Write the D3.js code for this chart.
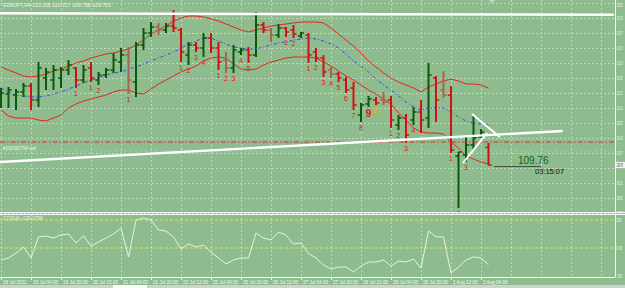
<!DOCTYPE html>
<html><head><meta charset="utf-8">
<script src="https://cdn.jsdelivr.net/npm/d3@7"></script>
<style>html,body{margin:0;padding:0;background:#8fbc8f;overflow:hidden}svg{display:block}</style>
</head><body><svg id="c" width="625" height="288"></svg>
<script>
// ---------- DATA ----------
const barTimes = [
 "18 Jul 12:00","18 Jul 16:00","18 Jul 20:00",
 "19 Jul 00:00","19 Jul 04:00","19 Jul 08:00","19 Jul 12:00","19 Jul 16:00","19 Jul 20:00",
 "20 Jul 00:00","20 Jul 04:00","20 Jul 08:00","20 Jul 12:00","20 Jul 16:00","20 Jul 20:00",
 "21 Jul 00:00","21 Jul 04:00","21 Jul 08:00","21 Jul 12:00","21 Jul 16:00","21 Jul 20:00",
 "22 Jul 00:00","22 Jul 04:00","22 Jul 08:00","22 Jul 12:00","22 Jul 16:00","22 Jul 20:00",
 "25 Jul 00:00","25 Jul 04:00","25 Jul 08:00","25 Jul 12:00","25 Jul 16:00","25 Jul 20:00",
 "26 Jul 00:00","26 Jul 04:00","26 Jul 08:00","26 Jul 12:00","26 Jul 16:00","26 Jul 20:00",
 "27 Jul 00:00","27 Jul 04:00","27 Jul 08:00","27 Jul 12:00","27 Jul 16:00","27 Jul 20:00",
 "28 Jul 00:00","28 Jul 04:00","28 Jul 08:00","28 Jul 12:00","28 Jul 16:00","28 Jul 20:00",
 "29 Jul 00:00","29 Jul 04:00","29 Jul 08:00","29 Jul 12:00","29 Jul 16:00","29 Jul 20:00",
 "1 Aug 00:00","1 Aug 04:00","1 Aug 08:00","1 Aug 12:00","1 Aug 16:00","1 Aug 20:00",
 "2 Aug 00:00","2 Aug 04:00","2 Aug 08:00"];

const open = [111.29,111.54,111.515,111.59,111.74,111.39,111.94,111.89,111.94,112.14,
 112.19,111.89,112.19,111.89,112.015,112.14,112.34,112.515,111.84,112.765,
 113.065,113.215,113.14,113.24,113.14,112.515,112.765,112.69,112.94,112.69,
 112.39,112.19,112.59,112.64,112.515,113.265,113.14,113.015,113.19,113.14,
 112.99,113.015,112.59,112.44,112.14,112.04,111.89,111.69,111.015,111.29,
 111.39,111.39,111.39,110.765,110.94,110.89,111.09,110.94,111.94,111.64,
 111.515,109.99,110.015,110.265,110.465,110.205];
const high = [111.69,111.715,111.665,111.815,111.815,112.34,112.19,112.265,112.215,112.39,
 112.215,112.265,112.34,112.09,112.19,112.565,112.69,112.715,112.84,113.19,
 113.34,113.315,113.315,113.64,113.19,112.84,112.84,113.065,113.065,112.84,
 112.59,112.765,112.69,112.715,113.59,113.34,113.19,113.29,113.215,113.265,
 113.09,113.065,112.69,112.515,112.215,112.09,111.965,111.84,111.315,111.49,
 111.465,111.59,111.49,111.015,111.04,111.215,111.39,112.315,111.99,112.115,
 111.74,110.09,110.465,111.015,110.665,110.317];
const low = [111.19,111.19,111.14,111.465,111.14,111.215,111.64,111.64,111.69,112.015,
 111.69,111.815,111.84,111.765,111.94,112.065,112.09,111.54,111.465,112.64,
 112.965,113.015,113.065,113.09,112.34,112.265,112.59,112.465,112.565,112.14,
 112.065,112.065,112.515,112.315,112.465,113.065,112.84,112.94,112.965,112.94,
 112.94,112.315,112.34,111.965,111.94,111.84,111.565,111.14,110.84,111.215,
 111.265,111.265,110.69,110.64,110.315,110.765,110.565,110.69,110.84,111.44,
 110.065,108.69,109.84,110.14,110.44,109.758];
const close = [111.565,111.64,111.59,111.74,111.39,112.19,112.09,112.14,112.14,112.265,
 111.89,112.14,111.94,112.015,112.14,112.39,112.515,111.89,112.765,113.065,
 113.215,113.14,113.24,113.19,112.59,112.765,112.69,112.94,112.69,112.34,
 112.19,112.64,112.64,112.515,113.265,113.14,113.015,113.19,113.09,113.04,
 113.065,112.515,112.44,112.09,112.04,111.94,111.64,111.265,111.265,111.415,
 111.315,111.34,110.89,110.94,110.515,111.09,110.89,112.015,111.39,111.515,
 110.14,110.09,110.265,110.44,110.59,109.763];
const mutedBars = [17,21,30,36,44,51,59];

const bbUpper = [112.215,112.14,112.065,111.99,111.965,111.99,112.04,112.115,112.165,112.24,
 112.315,112.365,112.44,112.49,112.54,112.565,112.615,112.665,112.765,112.89,
 113.04,113.14,113.24,113.365,113.44,113.49,113.49,113.465,113.415,113.365,
 113.29,113.215,113.14,113.09,113.14,113.19,113.24,113.265,113.29,113.315,
 113.34,113.34,113.34,113.315,113.19,113.04,112.89,112.74,112.565,112.365,
 112.215,112.065,111.94,111.84,111.765,111.69,111.59,111.715,111.79,111.865,
 111.915,111.865,111.79,111.79,111.765,111.69];
const bbMiddle = [111.69,111.59,111.515,111.49,111.465,111.465,111.49,111.54,111.59,111.665,
 111.74,111.815,111.89,111.94,112.015,112.065,112.09,112.165,112.215,112.29,
 112.365,112.44,112.515,112.59,112.69,112.79,112.865,112.94,112.94,112.865,
 112.79,112.715,112.69,112.665,112.665,112.715,112.765,112.815,112.84,112.89,
 112.915,112.94,112.915,112.865,112.79,112.69,112.54,112.365,112.24,112.09,
 111.915,111.765,111.64,111.49,111.34,111.215,111.14,111.19,111.19,111.19,
 111.09,110.965,110.865,110.815,110.79,110.765];
const bbLower = [111.14,110.99,110.94,110.94,110.94,110.89,110.865,110.94,111.015,111.19,
 111.29,111.365,111.415,111.465,111.515,111.59,111.64,111.64,111.565,111.54,
 111.665,111.79,111.89,111.99,112.09,112.165,112.24,112.365,112.44,112.465,
 112.44,112.29,112.165,112.14,112.165,112.265,112.34,112.39,112.44,112.465,
 112.465,112.465,112.44,112.34,112.24,112.115,111.99,111.89,111.765,111.64,
 111.54,111.415,111.29,111.065,110.89,110.69,110.59,110.565,110.565,110.54,
 110.34,110.19,109.99,109.915,109.84,109.79];

const cci = [-86,-71,-36,7,-71,79,86,71,93,100,
 36,86,14,43,71,100,143,-64,200,214,
 200,129,121,79,-7,29,7,21,-29,-71,
 -114,-86,-71,-71,107,71,57,114,93,29,
 36,-40,-71,-121,-150,-136,-136,-171,-129,-100,
 -100,-86,-129,-93,-100,-79,-143,121,79,79,
 -179,-136,-86,-64,-71,-120.3798];
const cciLevels = [200, 0];
const cciAxisLabels = [200, 0, -200];

// setup counts below bars: [bar index, text]
const setupCounts = [[10,"1"],[12,"1"],[13,"2"],[17,"1"],[24,"1"],[25,"2"],[26,"3"],[27,"4"],
 [29,"1"],[30,"2"],[31,"3"],[32,"4"],[33,"5"],[38,"1"],[39,"2"],
 [41,"1"],[42,"2"],[43,"3"],[44,"4"],[45,"5"],[46,"6"],[47,"7"],[48,"8"],[49,"9"],[50,"10"],
 [52,"1"],[53,"2"],[54,"3"],[55,"4"],[60,"1"],[61,"7"],[62,"3"]];

const tickLabels = ["18 Jul 2011","19 Jul 04:00","19 Jul 20:00","20 Jul 12:00","21 Jul 04:00",
 "21 Jul 20:00","22 Jul 12:00","25 Jul 04:00","25 Jul 20:00","26 Jul 12:00","27 Jul 04:00",
 "27 Jul 20:00","28 Jul 12:00","29 Jul 04:00","29 Jul 20:00","1 Aug 12:00","2 Aug 04:00"];
const priceTicks = [113.822,113.447,113.072,112.697,112.322,111.947,111.572,111.197,110.822,
 110.447,110.072,109.697,109.322,108.947,108.572];

// drawn objects: [barIndex, price] endpoints
const trendLines = [
 [[-0.2,113.557],[81.7,113.52]],
 [[-0.2,109.84],[74.9,110.615]],
 [[62.8,111.04],[66.5,110.465]],
 [[61.6,109.815],[64.8,110.565]]];
const orderPrice = 110.34;
const orderStop = 110.115;
const orderLabel = "#200380794 sell";
const header = "EURJPY,H4  110.205 110.317 109.758 109.763";
const cciTitle = "CCI(14) -120.3798";
const bidPrice = 109.763;
const timer = "03:15:07";

// ---------- DRAW ----------
const svg = d3.select("#c");
const W = 625, H = 288;
const plotR = 615, mainB = 212, cciT = 214, cciB = 277;
const X = d3.scaleLinear().domain([0, 80]).range([1, 601]);
const Y = d3.scaleLinear().domain([108.565, 113.89]).range([213, 0]);
const C = d3.scaleLinear().domain([-200, 200]).range([276, 220]);
const font = "Liberation Sans, Arial, sans-serif";
const gridCol = "#c0d6c0";

svg.append("rect").attr("width", W).attr("height", H).attr("fill", "#8fbc8f");

const defs = svg.append("defs");
defs.append("clipPath").attr("id","mainClip").append("rect").attr("x",0).attr("y",0).attr("width",plotR).attr("height",mainB);
defs.append("clipPath").attr("id","cciClip").append("rect").attr("x",0).attr("y",cciT).attr("width",plotR).attr("height",cciB-cciT);

// grid
const gridIdx = d3.range(0, 81, 4);
const g = svg.append("g");
g.selectAll(".vg").data(gridIdx).join("line")
 .attr("x1", d => X(d)+0.5).attr("x2", d => X(d)+0.5).attr("y1", 0).attr("y2", mainB)
 .attr("stroke", gridCol).attr("stroke-width", 1).attr("stroke-dasharray", "2,2");
g.selectAll(".vg2").data(gridIdx).join("line")
 .attr("x1", d => X(d)+0.5).attr("x2", d => X(d)+0.5).attr("y1", cciT).attr("y2", cciB)
 .attr("stroke", gridCol).attr("stroke-width", 1).attr("stroke-dasharray", "2,2");
g.selectAll(".hg").data(priceTicks).join("line")
 .attr("x1", 0).attr("x2", plotR).attr("y1", d => Math.round(Y(d))+0.5).attr("y2", d => Math.round(Y(d))+0.5)
 .attr("stroke", gridCol).attr("stroke-width", 1).attr("stroke-dasharray", "2,2");

const main = svg.append("g").attr("clip-path", "url(#mainClip)");

// bollinger
const line = arr => d3.line().x((d,i) => X(i)).y(d => Y(d))(arr);
main.append("path").attr("d", line(bbUpper)).attr("fill","none").attr("stroke","#e8231f").attr("stroke-width",1);
main.append("path").attr("d", line(bbLower)).attr("fill","none").attr("stroke","#e8231f").attr("stroke-width",1);
main.append("path").attr("d", line(bbMiddle)).attr("fill","none").attr("stroke","#2b4fe0").attr("stroke-width",1)
 .attr("stroke-dasharray","3,2,1,2");

// order stop line
main.append("line").attr("x1",0).attr("x2",plotR).attr("y1",Y(orderStop)).attr("y2",Y(orderStop))
 .attr("stroke","#8ee6e6").attr("stroke-width",0.8).attr("stroke-dasharray","2,3").attr("opacity",0.8);

// bars
const bars = main.append("g");
open.forEach((o, i) => {
  const up = close[i] >= o;
  let col = up ? "#0a5a0a" : "#d01212";
  if (mutedBars.includes(i)) col = "#a4674e";
  const x = X(i);
  bars.append("line").attr("x1",x).attr("x2",x).attr("y1",Y(high[i])).attr("y2",Y(low[i]))
    .attr("stroke",col).attr("stroke-width",2);
  bars.append("line").attr("x1",x-3.2).attr("x2",x).attr("y1",Y(o)).attr("y2",Y(o)).attr("stroke",col).attr("stroke-width",1.5);
  bars.append("line").attr("x1",x).attr("x2",x+3.2).attr("y1",Y(close[i])).attr("y2",Y(close[i])).attr("stroke",col).attr("stroke-width",1.5);
});

// setup counts
setupCounts.forEach(([b, t]) => {
  const big = t === "9", ten = t === "10";
  main.append("text").attr("x", X(b)).attr("y", Y(low[b]) + (big ? 10 : 7.5))
    .attr("text-anchor","middle").attr("font-family", font)
    .attr("font-size", big ? 10 : 7).attr("font-weight", big ? "bold" : "normal")
    .attr("fill", ten ? "#f0b000" : "#e81010").text(t);
});

// order price line (dash-dot)
main.append("line").attr("x1",0).attr("x2",plotR).attr("y1",Y(orderPrice)).attr("y2",Y(orderPrice))
 .attr("stroke","#e8281e").attr("stroke-width",1).attr("stroke-dasharray","5,2,1.5,2");
main.append("text").attr("x",3).attr("y",Y(orderPrice)+8).attr("font-family",font).attr("font-size",4.5)
 .attr("fill","#e8f4e8").text(orderLabel);

// trend lines
trendLines.forEach((l, k) => {
  main.append("line").attr("x1",X(l[0][0])).attr("y1",Y(l[0][1])).attr("x2",X(l[1][0])).attr("y2",Y(l[1][1]))
   .attr("stroke","#ffffff").attr("stroke-width", k < 2 ? 2.4 : 2);
});

// bid label
const bidY = Y(bidPrice);
svg.append("line").attr("x1",494).attr("x2",541).attr("y1",bidY+1.5).attr("y2",bidY+1.5).attr("stroke","#1e3a1e").attr("stroke-width",0.8);
svg.append("text").attr("x",518).attr("y",bidY-1).attr("font-family",font).attr("font-size",10)
 .attr("fill","#0f650f").text(bidPrice.toFixed(2));
svg.append("text").attr("x",535).attr("y",bidY+8.5).attr("font-family",font).attr("font-size",7.5)
 .attr("fill","#111").text(timer);

// header
svg.append("text").attr("x",3).attr("y",7).attr("font-family",font).attr("font-size",5.2)
 .attr("fill","#eef5ee").text(header);
// shift marker
svg.append("path").attr("d","M489,0 L495,0 L492,3 Z").attr("fill","#d0d0d0");

// panel borders
svg.append("line").attr("x1",0).attr("x2",W).attr("y1",mainB+0.5).attr("y2",mainB+0.5).attr("stroke","#f4f8f4").attr("stroke-width",1);
svg.append("line").attr("x1",0).attr("x2",W).attr("y1",cciT+0.5).attr("y2",cciT+0.5).attr("stroke","#f4f8f4").attr("stroke-width",1);
svg.append("line").attr("x1",0).attr("x2",plotR).attr("y1",cciB+0.5).attr("y2",cciB+0.5).attr("stroke","#f4f8f4").attr("stroke-width",1);
svg.append("line").attr("x1",plotR+0.5).attr("x2",plotR+0.5).attr("y1",0).attr("y2",cciB).attr("stroke","#f4f8f4").attr("stroke-width",1);

// price axis: the narrow axis strip squeezes the labels horizontally
const visTicks = priceTicks.filter(p => Math.abs(Y(p) - Y(bidPrice)) > 5);
const pa = svg.append("g").attr("transform",`translate(${plotR},0)`)
 .call(d3.axisRight(Y).tickValues(visTicks).tickSize(1).tickFormat(d3.format(".2f")));
pa.select(".domain").remove();
pa.selectAll("line").attr("stroke","#f4f8f4");
pa.selectAll("text").attr("font-family",font).attr("font-size",4.6).attr("fill","#f4f8f4")
 .attr("x",0).attr("dy", null)
 .attr("transform", d => `translate(1.6,${Y(d) < 4 ? 3.4 : 1.5}) scale(0.43,1)`);
// bid box
svg.append("rect").attr("x",plotR+1).attr("y",bidY-3).attr("width",9).attr("height",6).attr("fill","#f4f4f4");
svg.append("text").attr("font-family",font).attr("font-size",4.6).attr("fill","#222")
 .attr("transform",`translate(${plotR+1.6},${bidY+1.6}) scale(0.45,1)`).text(bidPrice.toFixed(2));

// CCI panel
const cg = svg.append("g").attr("clip-path","url(#cciClip)");
cg.selectAll(".lv").data(cciLevels).join("line")
 .attr("x1",0).attr("x2",plotR).attr("y1",d => C(d)).attr("y2",d => C(d))
 .attr("stroke","#f0f030").attr("stroke-width",0.8).attr("stroke-dasharray","3,2");
cg.append("path").attr("d", d3.line().x((d,i)=>X(i)).y(d=>C(d))(cci)).attr("fill","none")
 .attr("stroke","#f2f6f2").attr("stroke-width",0.9);
svg.append("text").attr("x",3).attr("y",220).attr("font-family",font).attr("font-size",4.8)
 .attr("fill","#eef5ee").text(cciTitle);
const ca = svg.append("g").attr("transform",`translate(${plotR},0)`)
 .call(d3.axisRight(C).tickValues(cciAxisLabels).tickSize(1).tickFormat(d => d === 0 ? "0.00" : d));
ca.select(".domain").remove();
ca.selectAll("line").attr("stroke","#f4f8f4");
ca.selectAll("text").attr("font-family",font).attr("font-size",4.6).attr("fill","#f4f8f4")
 .attr("x",0).attr("dy", null)
 .attr("transform","translate(1.6,1.5) scale(0.6,1)");

// time axis
const tickIdx = tickLabels.map((t, k) => k === 0 ? 0 : barTimes.indexOf(t));
const ta = svg.append("g").attr("transform",`translate(0,${cciB})`)
 .call(d3.axisBottom(X).tickValues(tickIdx).tickSize(3).tickFormat((d,k) => tickLabels[k]));
ta.select(".domain").remove();
ta.selectAll("line").attr("stroke","#f4f8f4");
ta.selectAll("text").attr("font-family",font).attr("font-size",4.6).attr("fill","#f4f8f4")
 .attr("text-anchor","start").attr("dx",1.5).attr("y",3.5);

// bottom strip
svg.append("rect").attr("x",0).attr("y",285).attr("width",W).attr("height",3).attr("fill","#cfd2cf");
svg.append("rect").attr("x",113).attr("y",285).attr("width",34).attr("height",3).attr("fill","#ffffff");
</script>
</body></html>
